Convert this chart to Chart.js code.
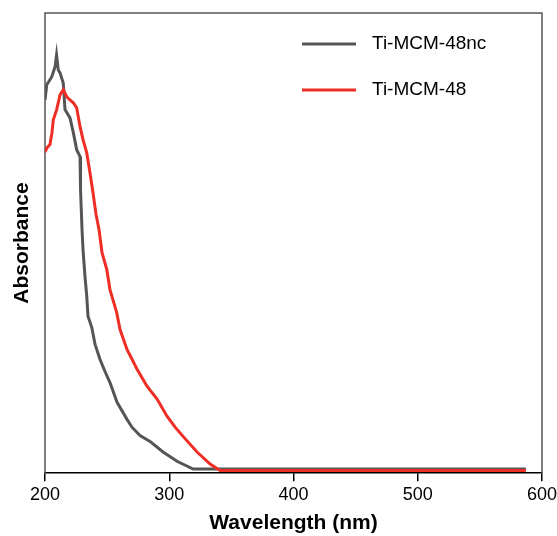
<!DOCTYPE html>
<html>
<head>
<meta charset="utf-8">
<script src="https://cdn.jsdelivr.net/npm/chart.js@4.4.1/dist/chart.umd.min.js"></script>
<style>
  html, body { margin: 0; padding: 0; background: #fff; }
  #wrap { width: 557px; height: 536px; }
</style>
</head>
<body>
<div id="wrap"><canvas id="uvChart" width="557" height="536"></canvas></div>
<script>
// Ti-MCM-48nc (grey)
const ncWavelength = [200, 201.4, 205.4, 208.1, 209.3, 210.7, 212.1, 214.7, 216.1, 220.1, 222.8, 225.5, 228.2, 228.6, 229.8, 230.6, 232.2, 233.6, 234.6, 237.6, 240.3, 244.3, 248.3, 252.3, 258.0, 266.0, 270.0, 276.5, 284.5, 295.0, 306.3, 319.2, 587];
const ncAbsorbance = [0.811, 0.844, 0.861, 0.883, 0.909, 0.876, 0.870, 0.848, 0.790, 0.772, 0.740, 0.703, 0.688, 0.616, 0.529, 0.486, 0.427, 0.384, 0.341, 0.317, 0.280, 0.247, 0.221, 0.197, 0.154, 0.117, 0.100, 0.082, 0.069, 0.046, 0.026, 0.009, 0.009];

// Ti-MCM-48 (red)
const tiWavelength = [200, 201.6, 204.0, 205.6, 206.7, 209.4, 212.1, 214.7, 217.5, 220.1, 222.8, 225.5, 228.2, 230.6, 233.6, 236.2, 238.6, 241.1, 243.5, 245.9, 249.7, 252.3, 257.7, 260.4, 266.0, 274.1, 282.1, 290.2, 298.2, 304.7, 311.1, 322.4, 332.9, 340.9, 587];
const tiAbsorbance = [0.698, 0.707, 0.714, 0.740, 0.768, 0.790, 0.822, 0.833, 0.818, 0.811, 0.805, 0.794, 0.753, 0.725, 0.696, 0.653, 0.610, 0.562, 0.529, 0.479, 0.443, 0.399, 0.349, 0.312, 0.269, 0.226, 0.189, 0.161, 0.124, 0.100, 0.080, 0.046, 0.020, 0.006, 0.006];

const xTicks = [200, 300, 400, 500, 600];

const toPoints = (xs, ys) => xs.map((x, i) => ({ x: x, y: ys[i] }));

// frame on top, left and right (bottom is the x axis)
const framePlugin = {
    id: 'frame',
    beforeDatasetsDraw(chart) {
        const { ctx, chartArea: a } = chart;
        ctx.save();
        ctx.strokeStyle = '#555555';
        ctx.lineWidth = 1.5;
        ctx.beginPath();
        ctx.moveTo(a.left, a.bottom);
        ctx.lineTo(a.left, a.top);
        ctx.lineTo(a.right, a.top);
        ctx.lineTo(a.right, a.bottom);
        ctx.stroke();
        ctx.restore();
    }
};

// legend drawn inside the plot, top right
const legendPlugin = {
    id: 'insideLegend',
    afterDraw(chart) {
        const ctx = chart.ctx;
        ctx.save();
        ctx.font = '19px "Liberation Sans", Arial, sans-serif';
        ctx.textBaseline = 'middle';
        chart.data.datasets.forEach((ds, i) => {
            const y = 44 + i * 46;
            ctx.strokeStyle = ds.borderColor;
            ctx.lineWidth = 3;
            ctx.beginPath();
            ctx.moveTo(302, y);
            ctx.lineTo(356, y);
            ctx.stroke();
            ctx.fillStyle = '#000';
            ctx.fillText(ds.label, 372, y);
        });
        ctx.restore();
    }
};

const ctx = document.getElementById('uvChart').getContext('2d');
const uvChart = new Chart(ctx, {
    type: 'line',
    data: {
        datasets: [{
            label: 'Ti-MCM-48nc',
            data: toPoints(ncWavelength, ncAbsorbance),
            borderColor: '#555555',
            borderWidth: 3,
            pointRadius: 0,
            tension: 0,
            fill: false,
            order: 2
        }, {
            label: 'Ti-MCM-48',
            data: toPoints(tiWavelength, tiAbsorbance),
            borderColor: '#ee2e24',
            borderWidth: 3,
            pointRadius: 0,
            tension: 0,
            fill: false,
            order: 1
        }]
    },
    options: {
        responsive: false,
        animation: false,
        events: [],
        layout: { padding: { top: 13, right: 0, left: 0, bottom: 0 } },
        plugins: {
            legend: { display: false },
            tooltip: { enabled: false }
        },
        scales: {
            x: {
                type: 'linear',
                min: 200,
                max: 600,
                afterBuildTicks: axis => { axis.ticks = xTicks.map(v => ({ value: v })); },
                afterFit: axis => { axis.paddingRight = 15; axis.paddingLeft = 0; },
                grid: { drawOnChartArea: false, drawTicks: true, tickLength: 8, color: '#000', lineWidth: 1.5 },
                border: { display: true, color: '#000', width: 1.5 },
                ticks: {
                    color: '#000',
                    padding: 3,
                    maxRotation: 0,
                    font: { family: '"Liberation Sans", Arial, sans-serif', size: 18 }
                },
                title: {
                    display: true,
                    text: 'Wavelength (nm)',
                    color: '#000',
                    padding: { top: 2, bottom: 0 },
                    font: { family: '"Liberation Sans", Arial, sans-serif', size: 21, weight: 'bold' }
                }
            },
            y: {
                min: 0,
                max: 1,
                grid: { display: false },
                border: { display: false },
                ticks: { display: false },
                title: {
                    display: true,
                    text: 'Absorbance',
                    color: '#000',
                    padding: { top: 10, bottom: 10 },
                    font: { family: '"Liberation Sans", Arial, sans-serif', size: 21, weight: 'bold' }
                },
                afterFit: axis => { axis.width = 45; }
            }
        }
    },
    plugins: [framePlugin, legendPlugin]
});
</script>
</body>
</html>
